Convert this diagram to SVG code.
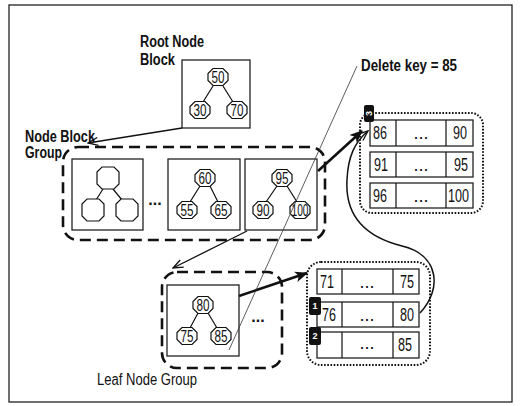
<svg xmlns="http://www.w3.org/2000/svg" width="520" height="406" viewBox="0 0 520 406">
<style>
.lbl{font-family:"Liberation Sans Narrow","Liberation Sans",Arial,sans-serif;font-weight:bold;font-size:16px;fill:#111}
.lbln{font-family:"Liberation Sans Narrow","Liberation Sans",Arial,sans-serif;font-size:16px;fill:#111}
.num{font-family:"Liberation Sans Narrow","Liberation Sans",Arial,sans-serif;font-size:16px;fill:#111;text-anchor:middle}
.cell{font-family:"Liberation Sans Narrow","Liberation Sans",Arial,sans-serif;font-size:18px;fill:#111}
.box{fill:#fff;stroke:#222;stroke-width:1.3}
.oct{fill:#fff;stroke:#111;stroke-width:1.2}
.edge{stroke:#111;stroke-width:1.2;fill:none}
.dash{fill:none;stroke:#111;stroke-width:2.6;stroke-dasharray:11 6}
.dot{fill:none;stroke:#111;stroke-width:2;stroke-dasharray:1.6 1.6}
.tbl{fill:#fff;stroke:#222;stroke-width:1.3}
.tag{fill:#111}
.tagt{font-family:"Liberation Sans",Arial,sans-serif;font-size:9px;fill:#fff;text-anchor:middle;font-weight:bold}
</style>
<defs>
<path id="o" d="M-5,-8.5 L5,-8.5 L10,-3.5 L10,3.5 L5,8.5 L-5,8.5 L-10,3.5 L-10,-3.5 Z"/>
<path id="ob" d="M-6,-11 L6,-11 L11,-6 L11,6 L6,11 L-6,11 L-11,6 L-11,-6 Z"/>
<marker id="av" viewBox="0 0 12 10" refX="11" refY="5" markerWidth="12" markerHeight="10" markerUnits="userSpaceOnUse" orient="auto">
<path d="M1,1 L11,5 L1,9" fill="none" stroke="#111" stroke-width="1.3"/>
</marker>
<marker id="af" viewBox="0 0 12 10" refX="11" refY="5" markerWidth="13" markerHeight="11" markerUnits="userSpaceOnUse" orient="auto">
<path d="M0,0 L12,5 L0,10 L3,5 Z" fill="#111"/>
</marker>
</defs>

<rect x="9" y="5" width="503" height="397" fill="#fff" stroke="#222" stroke-width="1.3"/>

<g id="labels">
<text class="lbl" x="140" y="47" textLength="64" lengthAdjust="spacingAndGlyphs">Root Node</text>
<text class="lbl" x="140" y="65" textLength="35" lengthAdjust="spacingAndGlyphs">Block</text>
<text class="lbl" x="25" y="142" textLength="70" lengthAdjust="spacingAndGlyphs">Node Block</text>
<text class="lbl" x="25" y="158" textLength="37" lengthAdjust="spacingAndGlyphs">Group</text>
<text class="lbl" x="361" y="71" textLength="96" lengthAdjust="spacingAndGlyphs">Delete key = 85</text>
<text class="lbln" x="97" y="385" textLength="100" lengthAdjust="spacingAndGlyphs">Leaf Node Group</text>
</g>

<g id="node-block-group">
<rect class="dash" x="63" y="147" width="262" height="93" rx="15"/>
</g>
<g id="leaf-node-group">
<rect class="dash" x="162" y="272" width="120" height="96" rx="15"/>
</g>

<g id="root-block">
<rect class="box" x="182" y="60" width="68" height="68"/>
<path class="edge" d="M213,86 L203,102 M223,86 L233,102"/>
<use href="#o" x="218" y="77" class="oct"/><text class="num" x="218" y="83" textLength="13" lengthAdjust="spacingAndGlyphs">50</text>
<use href="#o" x="200" y="110" class="oct"/><text class="num" x="200" y="116" textLength="13" lengthAdjust="spacingAndGlyphs">30</text>
<use href="#o" x="237" y="110" class="oct"/><text class="num" x="237" y="116" textLength="13" lengthAdjust="spacingAndGlyphs">70</text>
</g>

<g id="block-1">
<rect class="box" x="72" y="159" width="71" height="71"/>
<path class="edge" d="M103,189 L96,200 M113,189 L122,200"/>
<use href="#ob" x="108" y="178" class="oct"/>
<use href="#ob" x="93" y="210" class="oct"/>
<use href="#ob" x="127" y="210" class="oct"/>
</g>
<text x="155" y="205" font-family="Liberation Sans" font-weight="bold" font-size="16" text-anchor="middle" fill="#111">...</text>

<g id="block-2">
<rect class="box" x="168" y="159" width="72" height="71"/>
<path class="edge" d="M200,186 L190,202 M210,186 L218,202"/>
<use href="#o" x="205" y="178" class="oct"/><text class="num" x="205" y="184" textLength="13" lengthAdjust="spacingAndGlyphs">60</text>
<use href="#o" x="187" y="210" class="oct"/><text class="num" x="187" y="216" textLength="13" lengthAdjust="spacingAndGlyphs">55</text>
<use href="#o" x="221" y="210" class="oct"/><text class="num" x="221" y="216" textLength="13" lengthAdjust="spacingAndGlyphs">65</text>
</g>

<g id="block-3">
<rect class="box" x="245" y="159" width="72" height="71"/>
<path class="edge" d="M277,186 L266,202 M287,186 L297,202"/>
<use href="#o" x="282" y="178" class="oct"/><text class="num" x="282" y="184" textLength="13" lengthAdjust="spacingAndGlyphs">95</text>
<use href="#o" x="263" y="210" class="oct"/><text class="num" x="263" y="216" textLength="13" lengthAdjust="spacingAndGlyphs">90</text>
<use href="#o" x="300" y="210" class="oct"/><text class="num" x="300" y="216" textLength="17" lengthAdjust="spacingAndGlyphs">100</text>
</g>

<g id="leaf-block">
<rect class="box" x="167" y="285" width="72" height="71"/>
<path class="edge" d="M198,313 L190,328 M208,313 L217,328"/>
<use href="#o" x="203" y="305" class="oct"/><text class="num" x="203" y="311" textLength="13" lengthAdjust="spacingAndGlyphs">80</text>
<use href="#o" x="187" y="336" class="oct"/><text class="num" x="187" y="342" textLength="13" lengthAdjust="spacingAndGlyphs">75</text>
<use href="#o" x="221" y="336" class="oct"/><text class="num" x="221" y="342" textLength="13" lengthAdjust="spacingAndGlyphs">85</text>
</g>
<text x="258" y="322" font-family="Liberation Sans" font-weight="bold" font-size="16" text-anchor="middle" fill="#111">...</text>

<g id="upper-leaf-pages">
<rect class="dot" x="360" y="113" width="123" height="100" rx="12"/>
<rect class="tbl" x="370" y="120" width="103" height="26"/>
<path class="edge" d="M396,120 V146 M446,120 V146"/>
<rect class="tbl" x="370" y="152" width="103" height="25"/>
<path class="edge" d="M396,152 V177 M446,152 V177"/>
<rect class="tbl" x="370" y="183" width="103" height="25"/>
<path class="edge" d="M396,183 V208 M446,183 V208"/>
<text class="cell" x="373" y="139" textLength="14" lengthAdjust="spacingAndGlyphs">86</text>
<text class="cell" x="421" y="139" text-anchor="middle" font-size="13">...</text>
<text class="cell" x="453" y="139" textLength="14" lengthAdjust="spacingAndGlyphs">90</text>
<text class="cell" x="374" y="171" textLength="14" lengthAdjust="spacingAndGlyphs">91</text>
<text class="cell" x="421" y="171" text-anchor="middle" font-size="13">...</text>
<text class="cell" x="454" y="171" textLength="14" lengthAdjust="spacingAndGlyphs">95</text>
<text class="cell" x="373" y="202" textLength="14" lengthAdjust="spacingAndGlyphs">96</text>
<text class="cell" x="421" y="202" text-anchor="middle" font-size="13">...</text>
<text class="cell" x="448" y="202" textLength="21" lengthAdjust="spacingAndGlyphs">100</text>
<rect class="tag" x="364" y="105" width="10" height="17" rx="2"/>
<text class="tagt" transform="translate(372,113.5) rotate(-90)" x="0" y="0">3</text>
</g>

<g id="lower-leaf-pages">
<rect class="dot" x="307" y="262" width="123" height="103" rx="14"/>
<rect class="tbl" x="317" y="269" width="102" height="25"/>
<path class="edge" d="M342,269 V294 M393,269 V294"/>
<rect class="tbl" x="317" y="302" width="102" height="25"/>
<path class="edge" d="M342,302 V327 M393,302 V327"/>
<rect class="tbl" x="317" y="332" width="102" height="26"/>
<path class="edge" d="M342,332 V358 M393,332 V358"/>
<text class="cell" x="320" y="288" textLength="14" lengthAdjust="spacingAndGlyphs">71</text>
<text class="cell" x="367" y="288" text-anchor="middle" font-size="13">...</text>
<text class="cell" x="400" y="288" textLength="14" lengthAdjust="spacingAndGlyphs">75</text>
<text class="cell" x="322" y="321" textLength="14" lengthAdjust="spacingAndGlyphs">76</text>
<text class="cell" x="367" y="321" text-anchor="middle" font-size="13">...</text>
<text class="cell" x="400" y="321" textLength="14" lengthAdjust="spacingAndGlyphs">80</text>
<text class="cell" x="367" y="349" text-anchor="middle" font-size="13">...</text>
<text class="cell" x="398" y="351" textLength="14" lengthAdjust="spacingAndGlyphs">85</text>
<rect class="tag" x="309" y="297" width="12" height="18" rx="2"/>
<text class="tagt" x="315" y="309">1</text>
<rect class="tag" x="309" y="327" width="12" height="18" rx="2"/>
<text class="tagt" x="315" y="339">2</text>
</g>

<g id="connectors">
<line x1="182" y1="128" x2="88" y2="143" stroke="#111" stroke-width="1.3" marker-end="url(#av)"/>
<line x1="247" y1="231" x2="173" y2="268" stroke="#111" stroke-width="1.3" marker-end="url(#av)"/>
<line x1="318" y1="171" x2="362" y2="131" stroke="#111" stroke-width="2.6" marker-end="url(#af)"/>
<line x1="239" y1="296" x2="307" y2="273" stroke="#111" stroke-width="2.6" marker-end="url(#af)"/>
<path d="M420,313 C442,290 440,255 402,246 C362,236 345,214 347,180 C348,156 355,142 368,131" fill="none" stroke="#111" stroke-width="1.5" marker-end="url(#av)"/>
<line x1="357" y1="66" x2="229" y2="350" stroke="#333" stroke-width="0.8"/>
</g>
</svg>
